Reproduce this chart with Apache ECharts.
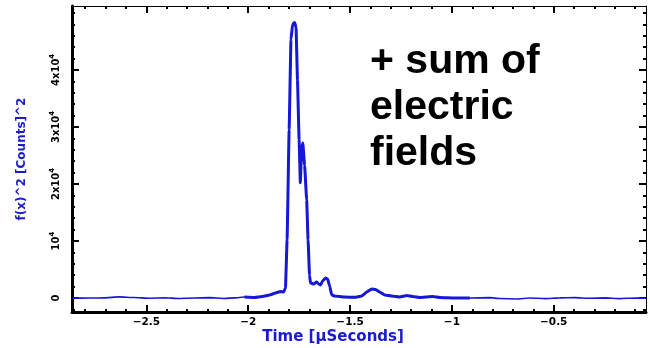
<!DOCTYPE html>
<html>
<head>
<meta charset="utf-8">
<script src="https://cdn.jsdelivr.net/npm/echarts@6/dist/echarts.min.js"></script>
<style>
  html, body { margin: 0; padding: 0; background: #fff; }
  #chart { width: 650px; height: 348px; }
</style>
</head>
<body>
<div id="chart"></div>
<script>
// Time in microseconds and squared field amplitude f(x)^2 in counts^2
const times = [
  -2.864, -2.780, -2.706, -2.633, -2.559, -2.485, -2.412, -2.338, -2.264, -2.190,
  -2.117, -2.067, -2.018, -1.969, -1.930, -1.895, -1.866, -1.842, -1.826, -1.817,
  -1.809, -1.799, -1.790, -1.782, -1.772, -1.765, -1.758, -1.750, -1.744, -1.738,
  -1.732, -1.723, -1.713, -1.706, -1.699, -1.694, -1.679, -1.664, -1.654, -1.645,
  -1.635, -1.620, -1.610, -1.600, -1.590, -1.576, -1.527, -1.477, -1.443, -1.418,
  -1.394, -1.374, -1.354, -1.330, -1.295, -1.256, -1.221, -1.192, -1.158, -1.094,
  -1.059, -0.986, -0.912, -0.814, -0.764, -0.681, -0.617, -0.543, -0.470, -0.396,
  -0.322, -0.248, -0.175, -0.101, -0.047
];
const power = [
  -50, 0, 30, 200, 90, -30, 40, -80, 0, 70,
  -70, 30, 170, 90, 260, 530, 880, 1140, 1050, 1750,
  10200, 29500, 45300, 48000, 48300, 47400, 38200, 27700, 20200, 26000,
  27200, 23300, 17200, 10200, 4000, 2630, 2460, 2810, 2460, 2280,
  2980, 3510, 3330, 2100, 530, 350, 175, 120, 350, 1050,
  1580, 1490, 1050, 530, 350, 175, 440, 260, 90, 260,
  90, 0, 0, 70, -90, -175, 0, -100, 35, 70,
  -50, 20, -100, 0, -50
];

// Axis ranges
const xMin = -2.865, xMax = -0.047;
const yMin = -2450, yMax = 51200;

// Tick positions and labels
const xMajorTicks = [-2.5, -2, -1.5, -1, -0.5];
const xMinorTicks = [-2.8, -2.7, -2.6, -2.4, -2.3, -2.2, -2.1, -1.9, -1.8, -1.7, -1.6,
  -1.4, -1.3, -1.2, -1.1, -0.9, -0.8, -0.7, -0.6, -0.4, -0.3, -0.2, -0.1];
const yMajorTicks = [0, 10000, 20000, 30000, 40000];
const yTickBase = ['0', '10', '2x10', '3x10', '4x10'];
const yTickExp = ['', '4', '4', '4', '4'];
const yMinorTicks = [-2000, 2000, 4000, 6000, 8000, 12000, 14000, 16000, 18000,
  22000, 24000, 26000, 28000, 32000, 34000, 36000, 38000, 42000, 44000, 46000,
  48000, 50000];

// Section of the trace drawn with the heavier pen
const boldFrom = -2.05, boldTo = -0.88;

const traceColor = '#1717d6';
const labelFont = 'DejaVu Sans';

const allPoints = times.map((t, i) => [t, power[i]]);
const boldPoints = allPoints.filter(p => p[0] >= boldFrom && p[0] <= boldTo);

function fmtX(v) {
  return v < 0 ? '\u2212' + Math.abs(v) : String(v);
}
function fmtY(v) {
  const i = yMajorTicks.indexOf(v);
  if (i < 0) return '';
  return yTickExp[i] ? '{b|' + yTickBase[i] + '}{s|' + yTickExp[i] + '}' : '{b|' + yTickBase[i] + '}';
}

function xAxisDef(pos, ticks, len, showLabel, lineW, showLine) {
  return {
    type: 'value', position: pos, min: xMin, max: xMax,
    axisLine: { show: showLine, onZero: false, lineStyle: { color: '#000', width: lineW } },
    axisTick: { show: true, inside: true, length: len, customValues: ticks,
      lineStyle: { color: '#000', width: 2 } },
    axisLabel: { show: showLabel, customValues: ticks, formatter: fmtX, margin: 5,
      color: '#000', fontFamily: labelFont, fontWeight: 'bold', fontSize: 10.5 },
    splitLine: { show: false }
  };
}
function yAxisDef(pos, ticks, len, showLabel, lineW, showLine) {
  return {
    type: 'value', position: pos, min: yMin, max: yMax,
    axisLine: { show: showLine, onZero: false, lineStyle: { color: '#000', width: lineW } },
    axisTick: { show: true, inside: true, length: len, customValues: ticks,
      lineStyle: { color: '#000', width: 2 } },
    axisLabel: { show: showLabel, customValues: ticks, formatter: fmtY, rotate: 90, margin: 9,
      color: '#000',
      rich: {
        b: { fontFamily: labelFont, fontWeight: 'bold', fontSize: 10, lineHeight: 14, color: '#000' },
        s: { fontFamily: labelFont, fontWeight: 'bold', fontSize: 7, lineHeight: 7, verticalAlign: 'top', color: '#000' }
      } },
    splitLine: { show: false }
  };
}

const chart = echarts.init(document.getElementById('chart'), null, { renderer: 'canvas' });
chart.setOption({
  animation: false,
  backgroundColor: '#fff',
  grid: { left: 72, right: 4, top: 6, bottom: 36 },
  xAxis: [
    xAxisDef('bottom', xMajorTicks, 7, true, 3, true),
    xAxisDef('bottom', xMinorTicks, 3, false, 3, false),
    xAxisDef('top', xMajorTicks, 7, false, 1, true),
    xAxisDef('top', xMinorTicks, 3, false, 1, false)
  ],
  yAxis: [
    yAxisDef('left', yMajorTicks, 7, true, 3, true),
    yAxisDef('left', yMinorTicks, 3, false, 3, false),
    yAxisDef('right', yMajorTicks, 7, false, 1, true),
    yAxisDef('right', yMinorTicks, 3, false, 1, false)
  ],
  series: [
    {
      type: 'line', xAxisIndex: 0, yAxisIndex: 0, data: allPoints,
      showSymbol: false, smooth: 0.1, smoothMonotone: 'x',
      lineStyle: { color: traceColor, width: 1.6 }
    },
    {
      type: 'line', xAxisIndex: 0, yAxisIndex: 0, data: boldPoints,
      showSymbol: false, smooth: 0.1, smoothMonotone: 'x',
      lineStyle: { color: traceColor, width: 3 }
    }
  ],
  graphic: [
    {
      type: 'text', x: 22, y: 159, rotation: Math.PI / 2,
      style: { text: 'f(x)^2 [Counts]^2', fill: '#1a1ad0', font: 'bold 12px "DejaVu Sans"',
        align: 'center', verticalAlign: 'middle' }
    },
    {
      type: 'text', x: 333, y: 337,
      style: { text: 'Time [\u03bcSeconds]', fill: '#1a1ad0', font: 'bold 15px "DejaVu Sans"',
        align: 'center', verticalAlign: 'middle' }
    },
    {
      type: 'text', x: 370, y: 39,
      style: { text: '+ sum of\nelectric\nfields', fill: '#000',
        font: 'bold 41px "Liberation Sans"', lineHeight: 46, align: 'left', verticalAlign: 'top' }
    }
  ]
});
</script>
</body>
</html>
